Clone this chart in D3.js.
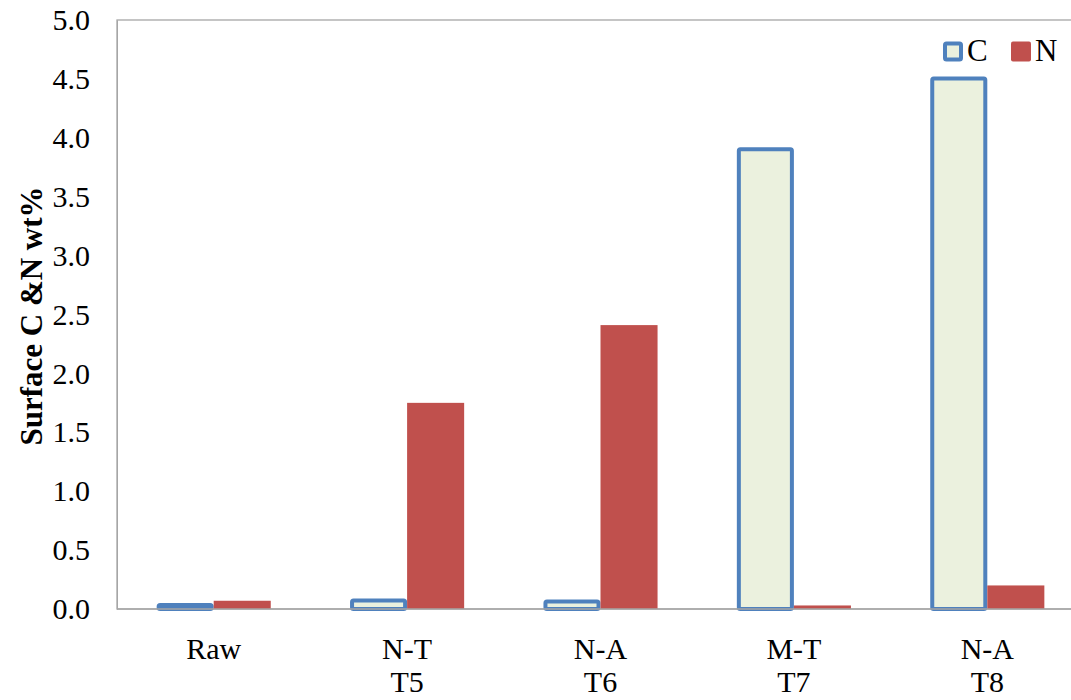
<!DOCTYPE html>
<html><head><meta charset="utf-8">
<script src="https://cdn.jsdelivr.net/npm/d3@7"></script>
<style>body{margin:0;background:#fff}svg{display:block}text{font-family:"Liberation Serif","Times New Roman",serif}</style>
</head><body><svg id="c" width="1071" height="700"></svg>
<script>
const categories = [["Raw"],["N-T","T5"],["N-A","T6"],["M-T","T7"],["N-A","T8"]];
const seriesNames = ["C","N"];
const valuesC = [0.05, 0.09, 0.08, 3.92, 4.52];
const valuesN = [0.07, 1.75, 2.41, 0.03, 0.20];
const yTicks = [0,0.5,1.0,1.5,2.0,2.5,3.0,3.5,4.0,4.5,5.0];

const svg = d3.select("#c");
const m = {l:117, t:20, r:1084, b:609};
const x = d3.scaleBand().domain(d3.range(categories.length)).range([m.l, m.r]).paddingInner(0.41).paddingOuter(0.205);
const xs = d3.scaleBand().domain(seriesNames).range([0, x.bandwidth()]);
const y = d3.scaleLinear().domain([0,5]).range([m.b, m.t]);

// plot border
svg.append("rect").attr("x",m.l).attr("y",m.t).attr("width",m.r-m.l).attr("height",m.b-m.t)
  .attr("fill","none").attr("stroke","#a6a6a6").attr("stroke-width",1.3);

const data = categories.map((c,i)=>({i, C:valuesC[i], N:valuesN[i]}));
const g = svg.append("g");
const sw = 4;
// C bars
g.selectAll("rect.c").data(data).join("rect").attr("class","c")
  .attr("x", d=>x(d.i)+xs("C")+sw/2).attr("width", xs.bandwidth()-sw)
  .attr("y", d=>y(d.C)+sw/2).attr("height", d=>Math.max(0, y(0)-y(d.C)-sw/2))
  .attr("fill","#ebf1de").attr("stroke","#4f81bd").attr("stroke-width",sw).attr("rx",1.5);
// N bars
g.selectAll("rect.n").data(data).join("rect").attr("class","n")
  .attr("x", d=>x(d.i)+xs("N")).attr("width", xs.bandwidth())
  .attr("y", d=>y(d.N)).attr("height", d=>y(0)-y(d.N))
  .attr("fill","#c0504d");

// y axis
const ya = svg.append("g").attr("transform",`translate(${m.l},0)`)
  .call(d3.axisLeft(y).tickValues(yTicks).tickFormat(d3.format(".1f")).tickSize(0).tickPadding(27));
ya.select(".domain").attr("stroke","#a6a6a6");
ya.selectAll("text").attr("font-size",30).attr("fill","#000").style("font-family","Liberation Serif");

// x axis line
svg.append("line").attr("x1",m.l).attr("x2",m.r).attr("y1",m.b).attr("y2",m.b).attr("stroke","#a6a6a6").attr("stroke-width",1.3);
// x labels
const xl = svg.append("g");
categories.forEach((c,i)=>{
  const cx = x(i)+x.bandwidth()/2;
  const t = xl.append("text").attr("x", cx).attr("y",659).attr("text-anchor","middle")
    .attr("font-size",30).attr("fill","#000");
  c.forEach((line,k)=>t.append("tspan").attr("x",cx).attr("dy",k?33:0).text(line));
});

// y title
svg.append("text").attr("transform","translate(42,316) rotate(-90)").attr("text-anchor","middle")
  .attr("font-size",31).attr("font-weight","bold").text("Surface C &N wt%");

// legend
const lg = svg.append("g");
const lx = [943, 1011];
seriesNames.forEach((s,i)=>{
  if(s==="C") lg.append("rect").attr("x",lx[i]+2).attr("y",43.5).attr("width",16).attr("height",16)
    .attr("fill","#ebf1de").attr("stroke","#4f81bd").attr("stroke-width",4).attr("rx",1.5);
  else lg.append("rect").attr("x",lx[i]).attr("y",41.5).attr("width",20).attr("height",20)
    .attr("fill","#c0504d").attr("rx",2);
  lg.append("text").attr("x",lx[i]+24).attr("y",61).attr("font-size",31).text(s);
});
</script></body></html>
